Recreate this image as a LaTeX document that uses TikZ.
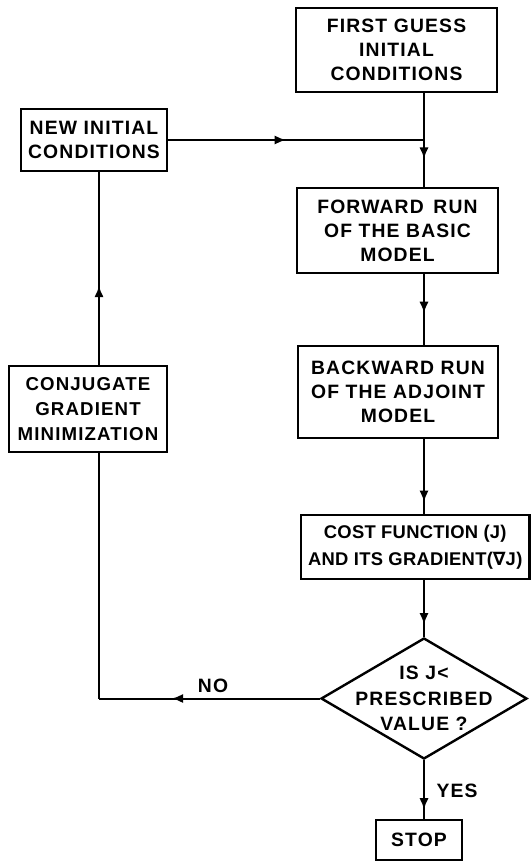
\documentclass[tikz,border=0pt]{standalone}
\usepackage{fontspec}
\setmainfont{Liberation Sans}[LetterSpace=6]
\newfontfamily\dvfont{DejaVu Sans}
\usetikzlibrary{shapes.geometric,arrows.meta,decorations.markings}
\begin{document}
\begin{tikzpicture}[x=0.75pt,y=-0.75pt,
  txt/.style={font=\fontsize{14.5}{18}\selectfont\bfseries,align=center,inner sep=0pt},
  box/.style={txt,draw,line width=1.8pt},
  ln/.style={line width=1.5pt},
  midarr/.style={postaction={decorate,decoration={markings,
      mark=at position #1 with {\arrow{Latex[length=8.5pt,width=7pt]}}}}}]
\useasboundingbox (0,0) rectangle (531,862);
\coordinate (sp) at (424,0);
\coordinate (lsp) at (99,0);
% boxes
\node[box,minimum width=150.75pt,minimum height=63pt] (first) at (396.5,50) {FIRST GUESS\\INITIAL\\CONDITIONS};
\node[box,minimum width=109.5pt,minimum height=46.5pt] (new) at (94,140) {NEW INITIAL\\CONDITIONS};
\node[box,minimum width=150.75pt,minimum height=63.75pt] (fwd) at (397.5,230.5) {FORWARD\enspace RUN\\OF THE BASIC\\MODEL};
\node[box,minimum width=150pt,minimum height=69pt] (bwd) at (398,392) {BACKWARD RUN\\OF THE ADJOINT\\MODEL};
\node[box,minimum width=118.5pt,minimum height=64.5pt,font=\fontsize{14}{19}\selectfont\bfseries] (conj) at (88,409) {CONJUGATE\\GRADIENT\\MINIMIZATION};
\node[box,minimum width=171.4pt,minimum height=48pt,font=\fontsize{13.8}{20}\selectfont\bfseries\addfontfeatures{LetterSpace=1.5}] (cost) at (415.25,547) {COST FUNCTION (J)\\AND ITS GRADIENT({\dvfont ∇}J)};
\node[draw,diamond,line width=1.8pt,minimum width=154.5pt,minimum height=90.75pt,inner sep=0pt] (dia) at (424,698.5) {};
\node[txt,font=\fontsize{14.5}{19}\selectfont\bfseries] (diatxt) at (dia.center) {IS J<\\PRESCRIBED\\VALUE ?};
\node[box,minimum width=64.5pt,minimum height=30pt] (stop) at (419,840) {STOP};
% labels
\node[txt] (no) at (213,686) {NO};
\node[txt] (yes) at (457,791) {YES};
% connectors
\coordinate (j) at (sp |- new.east);
\coordinate (c1) at (lsp |- dia.west);
\draw[ln,midarr=0.7] (first.south -| sp) -- (fwd.north -| sp);
\draw[ln,midarr=0.46] (new.east) -- (j);
\draw[ln,midarr=0.55] (fwd.south -| sp) -- (bwd.north -| sp);
\draw[ln,midarr=0.84] (bwd.south -| sp) -- (cost.north -| sp);
\draw[ln,midarr=0.78] (cost.south -| sp) -- (dia.north);
\draw[ln,midarr=0.67] (dia.west) -- (c1);
\draw[ln] (c1) -- (conj.south -| lsp);
\draw[ln,midarr=0.41] (conj.north -| lsp) -- (new.south -| lsp);
\draw[ln,midarr=0.84] (dia.south) -- (stop.north -| sp);
\end{tikzpicture}
\end{document}
